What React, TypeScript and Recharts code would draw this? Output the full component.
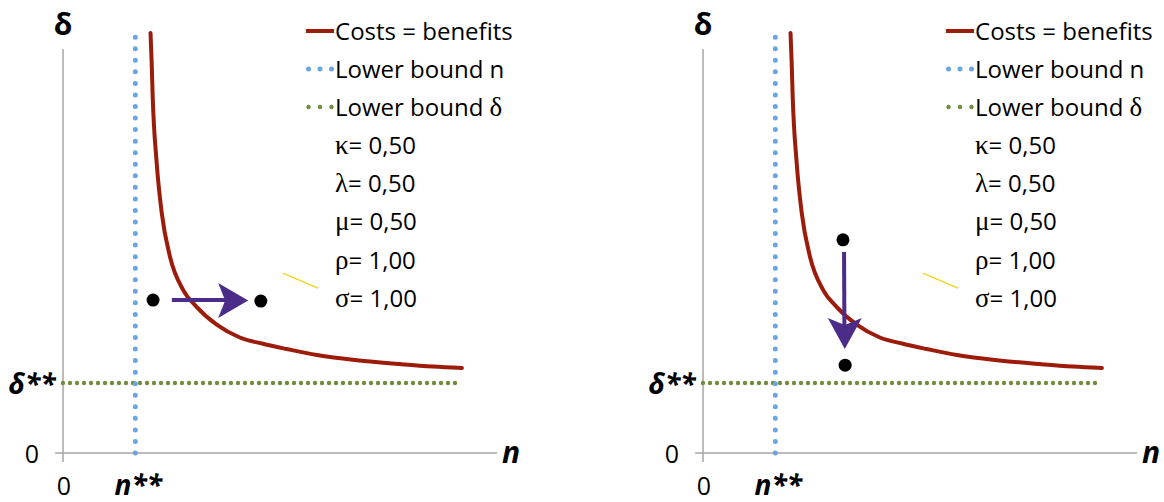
import { ComposedChart, Line, Scatter, XAxis, YAxis, ReferenceLine, Legend } from 'recharts'

// curve "costs = benefits" (same in both panels)
const costsCurve = [
    { n: 2.42, delta: 12.0 },
    { n: 2.45, delta: 11.2 },
    { n: 2.48, delta: 10.18 },
    { n: 2.59, delta: 8.29 },
    { n: 2.73, delta: 6.86 },
    { n: 2.96, delta: 5.6 },
    { n: 3.32, delta: 4.66 },
    { n: 3.7, delta: 4.17 },
    { n: 4.26, delta: 3.66 },
    { n: 4.89, delta: 3.3 },
    { n: 5.53, delta: 3.12 },
    { n: 6.19, delta: 2.97 },
    { n: 7.02, delta: 2.8 },
    { n: 8.13, delta: 2.65 },
    { n: 9.32, delta: 2.54 },
    { n: 10.23, delta: 2.47 },
    { n: 11.03, delta: 2.43 },
]

const lowerBoundN = [
    { n: 2, delta: 0 },
    { n: 2, delta: 11.9 },
]

const lowerBoundDelta = [
    { n: 0, delta: 2 },
    { n: 11, delta: 2 },
]

const strayLine = [
    { n: 6.08, delta: 5.14 },
    { n: 7.05, delta: 4.71 },
]

const leftDots = [
    { n: 2.49, delta: 4.37 },
    { n: 5.47, delta: 4.34 },
]
const leftShaft = [
    { n: 3.01, delta: 4.37 },
    { n: 4.62, delta: 4.37 },
]
const leftTip = [{ n: 5.12, delta: 4.36 }]

const rightDots = [
    { n: 3.87, delta: 6.09 },
    { n: 3.93, delta: 2.51 },
]
const rightShaft = [
    { n: 3.9, delta: 5.74 },
    { n: 3.91, delta: 3.51 },
]
const rightTip = [{ n: 3.92, delta: 2.97 }]

const xTicks = [0, 2]
const yTicks = [0, 2]
const xTickLabels = ['0', 'n**']
const yTickLabels = ['0', 'δ**']

const seriesNames = ['Costs = benefits', 'Lower bound n', 'Lower bound δ']
const paramSymbols = ['κ', 'λ', 'μ', 'ρ', 'σ']
const paramValues = ['0,50', '0,50', '0,50', '1,00', '1,00']

const SANS = '"Open Sans", Lato, sans-serif'
const SERIF = '"Liberation Serif", "DejaVu Serif", serif'
const RED = '#9c1c0b'
const BLUE = '#6ca4e2'
const GREEN = '#728c3e'
const PURPLE = '#4b2c89'
const AXIS = '#a6a6a6'

function withSerifGreek(text: string) {
    return text.split('').map((ch, i) =>
        /[\u0370-\u03ff]/.test(ch) ? (
            <span key={i} style={{ fontFamily: SERIF, fontSize: 27 }}>
                {ch}
            </span>
        ) : (
            ch
        )
    )
}

function LegendBox() {
    const marker = (i: number) => {
        if (i === 0) return <line x1={0} y1={19} x2={28} y2={19} stroke={RED} strokeWidth={4} />
        const color = i === 1 ? BLUE : GREEN
        const r = i === 1 ? 2.5 : 2.2
        return (
            <g fill={color}>
                <circle cx={2.5} cy={19} r={r} />
                <circle cx={14} cy={19} r={r} />
                <circle cx={25.5} cy={19} r={r} />
            </g>
        )
    }
    return (
        <div
            style={{
                fontFamily: SANS,
                fontSize: 24,
                color: '#000',
                lineHeight: '38.1px',
                fontVariantLigatures: 'none',
            }}
        >
            {seriesNames.map((name, i) => (
                <div key={name} style={{ display: 'flex', alignItems: 'center', height: 38.1, whiteSpace: 'nowrap' }}>
                    <svg width={29} height={38} style={{ flex: 'none' }}>
                        {marker(i)}
                    </svg>
                    <span>{withSerifGreek(name)}</span>
                </div>
            ))}
            {paramSymbols.map((sym, i) => (
                <div key={sym} style={{ height: 38.1, paddingLeft: 29, whiteSpace: 'nowrap' }}>
                    <span style={{ fontFamily: SERIF, fontSize: 27 }}>{sym}</span>= {paramValues[i]}
                </div>
            ))}
        </div>
    )
}

function XTick(props: any) {
    const idx = xTicks.indexOf(props.payload.value)
    const fancy = idx > 0
    return (
        <text
            x={props.x + (fancy ? 3 : 1)}
            y={props.y + 42}
            textAnchor="middle"
            fontFamily={SANS}
            fontSize={fancy ? 28 : 25}
            fontWeight={fancy ? 700 : 400}
            fontStyle={fancy ? 'italic' : 'normal'}
            fill="#000"
        >
            {xTickLabels[idx]}
        </text>
    )
}

function YTick(props: any) {
    const idx = yTicks.indexOf(props.payload.value)
    const fancy = idx > 0
    return (
        <text
            x={props.x - 31}
            y={props.y + (fancy ? 11 : 10)}
            textAnchor="middle"
            fontFamily={SANS}
            fontSize={fancy ? 28 : 25}
            fontWeight={fancy ? 700 : 400}
            fontStyle={fancy ? 'italic' : 'normal'}
            fill="#000"
        >
            {yTickLabels[idx]}
        </text>
    )
}

const nLabel = (props: any) => {
    const vb = props.viewBox
    return (
        <text x={vb.x + vb.width + 5} y={vb.y + 10} fontFamily={SANS} fontSize={30} fontWeight={700} fontStyle="italic" fill="#000">
            n
        </text>
    )
}

const deltaLabel = (props: any) => {
    const vb = props.viewBox
    return (
        <text x={vb.x + vb.width} y={vb.y + 2} textAnchor="middle" fontFamily={SANS} fontSize={30} fontWeight={700} fill="#000">
            δ
        </text>
    )
}

const blackDot = (p: any) => <circle cx={p.cx} cy={p.cy} r={6.5} fill="#000" />

const headRight = (p: any) => (
    <polygon
        points={`${p.cx},${p.cy} ${p.cx - 30},${p.cy - 17.5} ${p.cx - 23},${p.cy} ${p.cx - 30},${p.cy + 17.5}`}
        fill={PURPLE}
    />
)

const headDown = (p: any) => (
    <polygon
        points={`${p.cx},${p.cy} ${p.cx - 17},${p.cy - 31} ${p.cx},${p.cy - 24} ${p.cx + 17},${p.cy - 31}`}
        fill={PURPLE}
    />
)

interface PanelProps {
    dots: { n: number; delta: number }[]
    shaft: { n: number; delta: number }[]
    tip: { n: number; delta: number }[]
    head: (p: any) => JSX.Element
}

function Panel({ dots, shaft, tip, head }: PanelProps) {
    return (
        <ComposedChart width={524} height={502} margin={{ top: 33, right: 27, bottom: 48, left: 62 }}>
            <XAxis
                type="number"
                dataKey="n"
                domain={[0, 12]}
                ticks={xTicks}
                height={1}
                axisLine={false}
                tickLine={false}
                tickSize={0}
                tickMargin={0}
                tick={(p: any) => <XTick {...p} />}
                label={nLabel}
            />
            <YAxis
                type="number"
                dataKey="delta"
                domain={[0, 12]}
                ticks={yTicks}
                width={1}
                axisLine={false}
                tickLine={false}
                tickSize={0}
                tickMargin={0}
                tick={(p: any) => <YTick {...p} />}
                label={deltaLabel}
            />
            <ReferenceLine
                segment={[{ x: 0, y: -0.26 }, { x: 0, y: 11.54 }]}
                stroke={AXIS}
                strokeWidth={1.5}
                ifOverflow="visible"
            />
            <ReferenceLine
                segment={[{ x: -0.22, y: 0 }, { x: 12, y: 0 }]}
                stroke={AXIS}
                strokeWidth={1.5}
                ifOverflow="visible"
            />
            <Legend
                layout="vertical"
                align="center"
                verticalAlign="middle"
                wrapperStyle={{ left: 306, top: 12, width: 218 }}
                content={() => <LegendBox />}
            />
            <Line
                data={lowerBoundDelta}
                dataKey="delta"
                stroke={GREEN}
                strokeWidth={4.4}
                strokeDasharray="0 7"
                strokeLinecap="round"
                dot={false}
                activeDot={false}
                type="linear"
                isAnimationActive={false}
                legendType="none"
            />
            <Line
                data={lowerBoundN}
                dataKey="delta"
                stroke={BLUE}
                strokeWidth={5}
                strokeDasharray="0 11.55"
                strokeLinecap="round"
                dot={false}
                activeDot={false}
                type="linear"
                isAnimationActive={false}
                legendType="none"
            />
            <Line
                data={strayLine}
                dataKey="delta"
                stroke="#f7d21a"
                strokeWidth={1.2}
                dot={false}
                activeDot={false}
                type="linear"
                isAnimationActive={false}
                legendType="none"
            />
            <Line
                data={costsCurve}
                dataKey="delta"
                stroke={RED}
                strokeWidth={4}
                strokeLinecap="round"
                dot={false}
                activeDot={false}
                type="monotone"
                isAnimationActive={false}
                legendType="none"
            />
            <Line
                data={shaft}
                dataKey="delta"
                stroke={PURPLE}
                strokeWidth={4}
                dot={false}
                activeDot={false}
                type="linear"
                isAnimationActive={false}
                legendType="none"
            />
            <Scatter data={tip} dataKey="delta" shape={head} isAnimationActive={false} legendType="none" />
            <Scatter data={dots} dataKey="delta" shape={blackDot} isAnimationActive={false} legendType="none" />
        </ComposedChart>
    )
}

export default function App() {
    return (
        <div
            style={{
                position: 'absolute',
                left: 0,
                top: 0,
                width: 1164,
                height: 502,
                background: '#fff',
                overflow: 'hidden',
            }}
        >
            <div style={{ position: 'absolute', left: 0, top: 0 }}>
                <Panel dots={leftDots} shaft={leftShaft} tip={leftTip} head={headRight} />
            </div>
            <div style={{ position: 'absolute', left: 640, top: 0 }}>
                <Panel dots={rightDots} shaft={rightShaft} tip={rightTip} head={headDown} />
            </div>
        </div>
    )
}
